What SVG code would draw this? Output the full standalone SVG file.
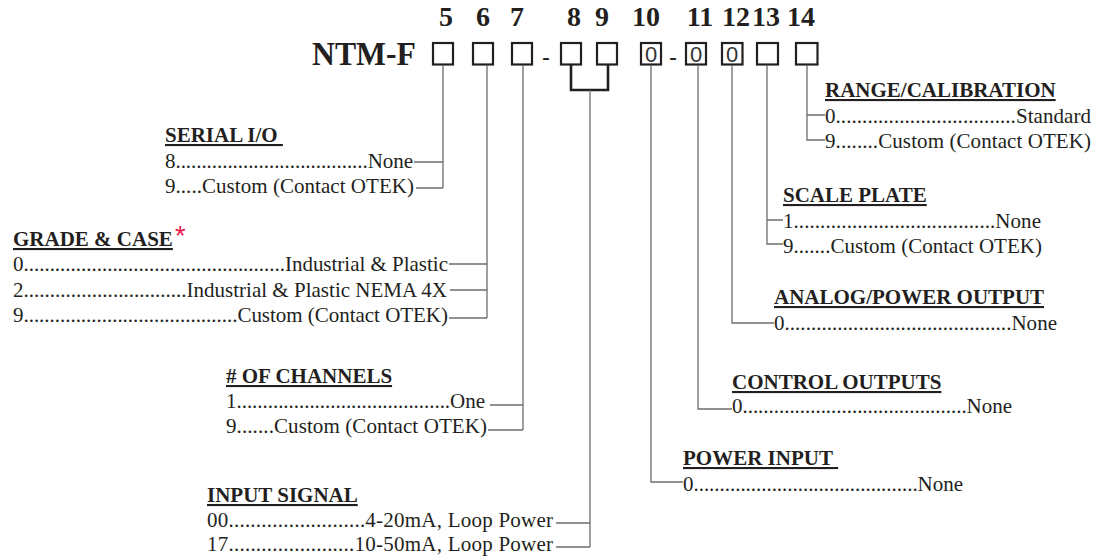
<svg xmlns="http://www.w3.org/2000/svg" width="1105" height="560" viewBox="0 0 1105 560">
<style>
text{font-family:"Liberation Serif","Times New Roman",serif;fill:#231f20}
.h{font-size:21px;font-weight:bold;text-decoration:underline}
.t{font-size:21px}
.num{font-size:28px;font-weight:bold;text-anchor:middle}
.title{font-size:34px;font-weight:bold}
.box{fill:#fff;stroke:#231f20;stroke-width:2.2}
.bz{font-family:"Liberation Sans",Arial,sans-serif;font-size:22px;text-anchor:middle;fill:#333}
.dash{font-family:"Liberation Sans",Arial,sans-serif;font-size:24px;text-anchor:middle}
.c{fill:none;stroke:#6d6d6d;stroke-width:1.3}
.br{fill:none;stroke:#231f20;stroke-width:2.6}
.ast{font-family:"Liberation Sans",Arial,sans-serif;font-size:27px;fill:#e8204a}
</style>
<rect width="1105" height="560" fill="#fff"/>

<g id="model-code">
<text class="title" x="312" y="65" textLength="104" lengthAdjust="spacingAndGlyphs">NTM-F</text>
<text class="num" x="446" y="26">5</text>
<text class="num" x="483" y="26">6</text>
<text class="num" x="517" y="26">7</text>
<text class="num" x="574" y="26">8</text>
<text class="num" x="602" y="26">9</text>
<text class="num" x="646" y="26">10</text>
<text class="num" x="700" y="26">11</text>
<text class="num" x="736" y="26">12</text>
<text class="num" x="766" y="26">13</text>
<text class="num" x="801" y="26">14</text>
<rect class="box" x="433" y="43" width="20" height="21.5"/>
<rect class="box" x="473" y="43" width="20" height="21.5"/>
<rect class="box" x="512" y="43" width="20" height="21.5"/>
<text class="dash" x="546" y="65">-</text>
<rect class="box" x="561" y="43" width="20" height="21.5"/>
<rect class="box" x="597" y="43" width="20" height="21.5"/>
<rect class="box" x="641" y="43" width="20" height="21.5"/>
<text class="bz" x="651" y="62">0</text>
<text class="dash" x="673" y="65">-</text>
<rect class="box" x="686" y="43" width="20" height="21.5"/>
<text class="bz" x="696" y="62">0</text>
<rect class="box" x="722" y="43" width="20.5" height="21.5"/>
<text class="bz" x="732" y="62">0</text>
<rect class="box" x="757" y="43" width="21" height="21.5"/>
<rect class="box" x="796" y="43" width="21.5" height="21.5"/>
</g>

<g id="connectors">
<path class="c" d="M443,65V188M414,162H443M416,188H443"/>
<path class="c" d="M487,65V318M449,264H487M450,290H487M449,318H487"/>
<path class="c" d="M523,65V430M490,405H523M488,430H523"/>
<path class="br" d="M571,65V90H608V65"/>
<path class="c" d="M590,90V547M556,523H590M556,547H590"/>
<path class="c" d="M651,65V482H683"/>
<path class="c" d="M698,65V409H732"/>
<path class="c" d="M732,65V323H774"/>
<path class="c" d="M767,65V244H783M767,220H783"/>
<path class="c" d="M807,65V140H825M807,115H825"/>
</g>

<g id="serial-io">
<text class="h" x="165" y="142">SERIAL I/O&#160;</text>
<text class="t" x="165" y="168" textLength="248">8.....................................None</text>
<text class="t" x="165" y="193" textLength="249">9.....Custom (Contact OTEK)</text>
</g>

<g id="grade-case">
<text class="h" x="13" y="246">GRADE &amp; CASE</text>
<text class="ast" x="175" y="245">*</text>
<text class="t" x="13" y="271" textLength="435">0..................................................Industrial &amp; Plastic</text>
<text class="t" x="13" y="297" textLength="434">2...............................Industrial &amp; Plastic NEMA 4X</text>
<text class="t" x="13" y="322" textLength="435">9.........................................Custom (Contact OTEK)</text>
</g>

<g id="channels">
<text class="h" x="226" y="383"># OF CHANNELS</text>
<text class="t" x="226" y="408" textLength="259">1.........................................One</text>
<text class="t" x="226" y="433" textLength="261">9.......Custom (Contact OTEK)</text>
</g>

<g id="input-signal">
<text class="h" x="207" y="502">INPUT SIGNAL</text>
<text class="t" x="207" y="527" textLength="346">00.........................4-20mA, Loop Power</text>
<text class="t" x="207" y="551" textLength="346">17.......................10-50mA, Loop Power</text>
</g>

<g id="power-input">
<text class="h" x="683" y="465">POWER INPUT&#160;</text>
<text class="t" x="683" y="491" textLength="280">0...........................................None</text>
</g>

<g id="control-outputs">
<text class="h" x="732" y="389">CONTROL OUTPUTS</text>
<text class="t" x="732" y="413" textLength="280">0...........................................None</text>
</g>

<g id="analog-output">
<text class="h" x="774" y="304">ANALOG/POWER OUTPUT</text>
<text class="t" x="774" y="330" textLength="283">0...........................................None</text>
</g>

<g id="scale-plate">
<text class="h" x="783" y="202">SCALE PLATE</text>
<text class="t" x="783" y="228" textLength="258">1......................................None</text>
<text class="t" x="783" y="253" textLength="259">9.......Custom (Contact OTEK)</text>
</g>

<g id="range-calibration">
<text class="h" x="825" y="97">RANGE/CALIBRATION</text>
<text class="t" x="825" y="123" textLength="266">0..................................Standard</text>
<text class="t" x="825" y="148" textLength="266">9........Custom (Contact OTEK)</text>
</g>
</svg>
